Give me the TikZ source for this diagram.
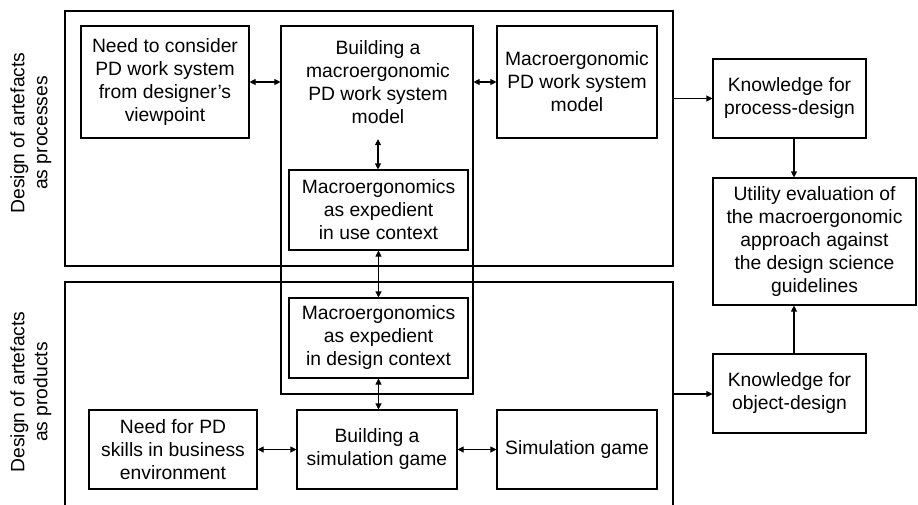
\documentclass[tikz,border=0pt]{standalone}
\usepackage{fontspec}
\setmainfont{Liberation Sans}
\usetikzlibrary{arrows.meta}
\begin{document}
\begin{tikzpicture}[x=1pt,y=-1pt,
 fnt/.style={font=\fontsize{19.3}{23}\selectfont},
 box/.style={draw,line width=1.1pt,align=center,fnt,inner sep=0pt},
 frame/.style={draw,line width=1.1pt,inner sep=0pt},
 txt/.style={align=center,fnt,inner sep=0pt},
 tip/.tip={Triangle[length=6pt,width=6pt]},
 biarrow/.style={line width=1.1pt,tip-tip},
 arrow/.style={line width=1.1pt,-tip}]
\useasboundingbox (0,0) rectangle (918,504);

% big frames
\node[frame,minimum width=608pt,minimum height=255pt] (proc) at (369,138.5) {};
\draw[line width=1.1pt] (65,506) -- (65,282) -- (673,282) -- (673,506);
\coordinate (prodE) at (673,394);

% side labels
\node[txt,rotate=90] (lproc) at (31,133) {Design of artefacts\\as processes};
\node[txt,rotate=90] (lprod) at (31,392) {Design of artefacts\\as products};

% top row
\node[box,minimum width=168pt,minimum height=112pt] (n1) at (165,82) {Need to consider\\PD work system\\from designer's\\viewpoint};
\node[frame,minimum width=192pt,minimum height=368pt] (tall) at (377,210) {};
\node[txt,minimum height=114pt] (btext) at (378,82) {Building a\\macroergonomic\\PD work system\\model};
\node[box,minimum width=160pt,minimum height=112pt] (n3) at (577,82) {Macroergonomic\\PD work system\\model};

\node[box,minimum width=179pt,minimum height=80pt] (use) at (378.5,210) {Macroergonomics\\as expedient\\in use context};
\node[box,minimum width=179pt,minimum height=80pt] (des) at (378.5,338) {Macroergonomics\\as expedient\\in design context};

% bottom row
\node[box,minimum width=168pt,minimum height=79pt] (sk) at (173,449.5) {Need for PD\\skills in business\\environment};
\node[box,minimum width=160pt,minimum height=79pt] (bs) at (377,449.5) {Building a\\simulation game};
\node[box,minimum width=160pt,minimum height=79pt] (sg) at (577,449.5) {Simulation game};

% right column
\node[box,minimum width=153pt,minimum height=79pt] (kp) at (789.5,98.5) {Knowledge for\\process-design};
\node[box,minimum width=203pt,minimum height=127pt] (ut) at (814.5,241.5) {Utility evaluation of\\the macroergonomic\\approach against\\the design science\\guidelines};
\node[box,minimum width=153pt,minimum height=79pt] (ko) at (789.5,393.5) {Knowledge for\\object-design};

% connectors
\draw[biarrow] (n1.east) -- (n1.east -| tall.west);
\draw[biarrow] (n3.west -| tall.east) -- (n3.west);
\draw[biarrow] (btext.south) -- (btext.south |- use.north);
\draw[biarrow] (use.south) -- (des.north);
\draw[biarrow] (des.south) -- (des.south |- bs.north);
\draw[biarrow] (sk.east) -- (bs.west);
\draw[biarrow] (bs.east) -- (sg.west);
\draw[arrow] (kp.west -| proc.east) -- (kp.west);
\draw[arrow] (prodE) -- (prodE -| ko.west);
\draw[arrow] ([xshift=4.5pt]kp.south) -- ([xshift=4.5pt]kp.south |- ut.north);
\draw[arrow] ([xshift=4.5pt]ko.north) -- ([xshift=4.5pt]ko.north |- ut.south);
\end{tikzpicture}
\end{document}
